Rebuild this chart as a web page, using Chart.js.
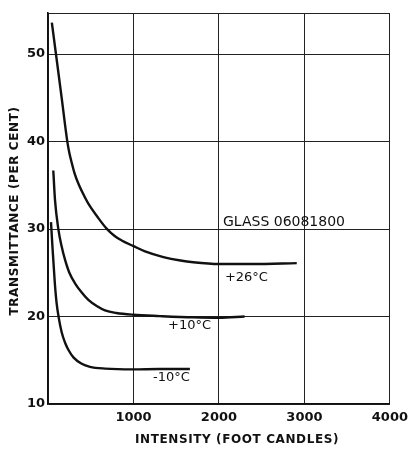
<!DOCTYPE html>
<html>
<head>
<meta charset="utf-8">
<script src="https://cdn.jsdelivr.net/npm/chart.js@4.4.1/dist/chart.umd.min.js"></script>
<style>
  html, body { margin: 0; padding: 0; background: #fff; }
  #wrap { width: 414px; height: 449px; }
</style>
</head>
<body>
<div id="wrap"><canvas id="chart" width="414" height="449"></canvas></div>
<script>
// values (intensity in foot candles, transmittance %)
const x26 = [45, 100, 160, 226, 250, 277, 310, 355, 433, 472, 589, 686, 780, 862, 1000, 1135, 1350, 1550, 1700, 2000, 2400, 2910];
const y26 = [53.6, 49.5, 45.0, 40.0, 38.7, 37.6, 36.4, 35.2, 33.6, 32.9, 31.25, 30.05, 29.2, 28.7, 28.05, 27.45, 26.8, 26.4, 26.2, 26.0, 26.0, 26.1];

const x10 = [62, 82, 121, 160, 199, 250, 316, 390, 472, 570, 667, 800, 998, 1310, 1700, 2000, 2300];
const y10 = [36.7, 33.3, 30.0, 28.0, 26.5, 25.0, 23.8, 22.8, 21.9, 21.2, 20.7, 20.4, 20.2, 20.05, 19.9, 19.85, 20.0];

const xm10 = [35, 50, 62, 80, 100, 125, 160, 200, 238, 300, 394, 491, 667, 996, 1300, 1660];
const ym10 = [30.8, 28.3, 26.5, 23.8, 21.6, 19.9, 18.2, 17.0, 16.2, 15.3, 14.6, 14.25, 14.05, 13.96, 14.0, 14.0];

const seriesNames = ['+26°C', '+10°C', '-10°C'];
const yTicks = [10, 20, 30, 40, 50];
const yTop = 54.7;
const xTicks = [1000, 2000, 3000, 4000];

// curve labels, anchored in data units
const notes = [
    { text: 'GLASS 06081800', x: 2047, y: 30.75, size: 14 },
    { text: '+26°C', x: 2070, y: 24.5, size: 13 },
    { text: '+10°C', x: 1404, y: 19.0, size: 13 },
    { text: '-10°C', x: 1228, y: 13.0, size: 13 }
];

const pts = (xs, ys) => xs.map((x, i) => ({ x: x, y: ys[i] }));

const lineStyle = {
    borderColor: '#111',
    borderWidth: 2.4,
    pointRadius: 0,
    fill: false,
    cubicInterpolationMode: 'monotone'
};

// annotations + axis titles drawn on top
const notesPlugin = {
    id: 'notes',
    afterDraw(chart) {
        const ctx = chart.ctx;
        const xs = chart.scales.x, ys = chart.scales.y;
        ctx.save();
        ctx.fillStyle = '#111';
        ctx.textBaseline = 'middle';
        ctx.textAlign = 'left';
        notes.forEach(n => {
            ctx.font = n.size + 'px "DejaVu Sans"';
            ctx.fillText(n.text, xs.getPixelForValue(n.x), ys.getPixelForValue(n.y));
        });
        ctx.font = 'bold 12px "DejaVu Sans"';
        ctx.letterSpacing = '0.6px';
        ctx.textAlign = 'center';
        ctx.fillText('INTENSITY (FOOT CANDLES)', 237, 440);
        ctx.translate(15, 211);
        ctx.rotate(-Math.PI / 2);
        ctx.fillText('TRANSMITTANCE (PER CENT)', 0, 0);
        ctx.restore();
    }
};

new Chart(document.getElementById('chart'), {
    type: 'line',
    data: {
        datasets: [
            { label: seriesNames[0], data: pts(x26, y26), ...lineStyle },
            { label: seriesNames[1], data: pts(x10, y10), ...lineStyle },
            { label: seriesNames[2], data: pts(xm10, ym10), ...lineStyle }
        ]
    },
    options: {
        responsive: false,
        animation: false,
        layout: { padding: { top: 13, right: 24, left: 0, bottom: 0 } },
        plugins: { legend: { display: false }, tooltip: { enabled: false } },
        scales: {
            x: {
                type: 'linear',
                min: 0,
                max: 4000,
                afterBuildTicks: s => { s.ticks = [0, ...xTicks].map(v => ({ value: v })); },
                afterFit: s => { s.height = 45; },
                grid: { color: '#222', lineWidth: 1, drawTicks: false },
                border: { color: '#111', width: 1.6 },
                ticks: {
                    padding: 6,
                    color: '#111',
                    font: { family: 'DejaVu Sans', size: 13, weight: 'bold' },
                    callback: v => (v === 0 ? '' : v)
                }
            },
            y: {
                type: 'linear',
                min: 10,
                max: yTop,
                afterBuildTicks: s => { s.ticks = [...yTicks, yTop].map(v => ({ value: v })); },
                afterFit: s => { s.width = 48; },
                grid: { color: '#222', lineWidth: 1, drawTicks: false },
                border: { color: '#111', width: 1.6 },
                ticks: {
                    padding: 3,
                    color: '#111',
                    font: { family: 'DejaVu Sans', size: 13, weight: 'bold' },
                    callback: v => (yTicks.includes(v) ? v : '')
                }
            }
        }
    },
    plugins: [notesPlugin]
});
</script>
</body>
</html>
